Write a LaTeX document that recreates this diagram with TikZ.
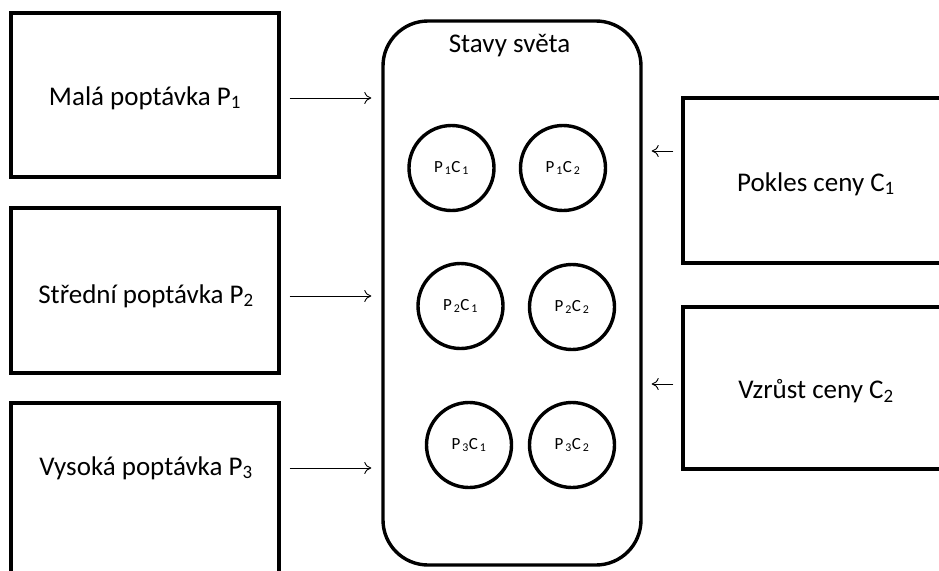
\documentclass[tikz,border=0pt]{standalone}
\usepackage{fontspec}
\setmainfont{Carlito}
\usetikzlibrary{arrows.meta,calc}
\newcommand{\lowix}[1]{\kern2pt\textsubscript{#1}}
\begin{document}
\begin{tikzpicture}[x=1pt,y=-1pt,
  box/.style={draw,line width=3.4pt,inner sep=0pt},
  lbl/.style={font=\fontsize{27}{31}\selectfont,inner sep=0pt},
  state/.style={draw,circle,line width=3.4pt,minimum size=85pt,inner sep=0pt,font=\fontsize{17}{20}\selectfont},
  arr/.style={line width=0.9pt,-{To[length=7pt,width=12pt]}}]
\useasboundingbox (0,0) rectangle (939,570);
\clip (0,0) rectangle (939,570);
% left boxes
\node[box,minimum width=268pt,minimum height=164pt] (b1) at (145,95) {};
\node[box,minimum width=268pt,minimum height=165pt] (b2) at (145,290.5) {};
\node[box,minimum width=268pt,minimum height=174pt] (b3) at (145,490) {};
\node[lbl] (t1) at (145,98) {Malá poptávka P\textsubscript{1}};
\node[lbl] (t2) at (146,296) {Střední poptávka P\textsubscript{2}};
\node[lbl] (t3) at (146,468) {Vysoká poptávka P\textsubscript{3}};
% right boxes
\node[box,minimum width=282pt,minimum height=165pt] (r1) at (824,180.5) {};
\node[box,minimum width=282pt,minimum height=162pt] (r2) at (824,388) {};
\node[lbl] (t4) at (816,184) {Pokles ceny C\textsubscript{1}};
\node[lbl] (t5) at (816,391) {Vzrůst ceny C\textsubscript{2}};
% states container
\node[box,rounded corners=45pt,minimum width=258pt,minimum height=544pt] (st) at (512,293) {};
\node[lbl] (title) at (509.5,46) {Stavy světa};
% circles
\node[state] (c11) at (451.5,168) {P\lowix{1}C\lowix{1}};
\node[state] (c12) at (563,168) {P\lowix{1}C\lowix{2}};
\node[state] (c21) at (460.5,306) {P\lowix{2}C\lowix{1}};
\node[state] (c22) at (572,307) {P\lowix{2}C\lowix{2}};
\node[state] (c31) at (469,445) {P\lowix{3}C\lowix{1}};
\node[state] (c32) at (572,445) {P\lowix{3}C\lowix{2}};
% arrows
\draw[arr] ($(b1.east |- t1)+(9,0)$) -- ($(st.west |- t1)+(-10,0)$);
\draw[arr] ($(b2.east |- t2)+(9,0)$) -- ($(st.west |- t2)+(-10,0)$);
\draw[arr] ($(b3.east |- t3)+(9,0)$) -- ($(st.west |- t3)+(-10,0)$);
\draw[arr] ($(r1.west)+(-8,-29.5)$) -- ($(st.east |- r1.west)+(9,-29.5)$);
\draw[arr] ($(r2.west)+(-8,-4)$) -- ($(st.east |- r2.west)+(9,-4)$);
\end{tikzpicture}
\end{document}
